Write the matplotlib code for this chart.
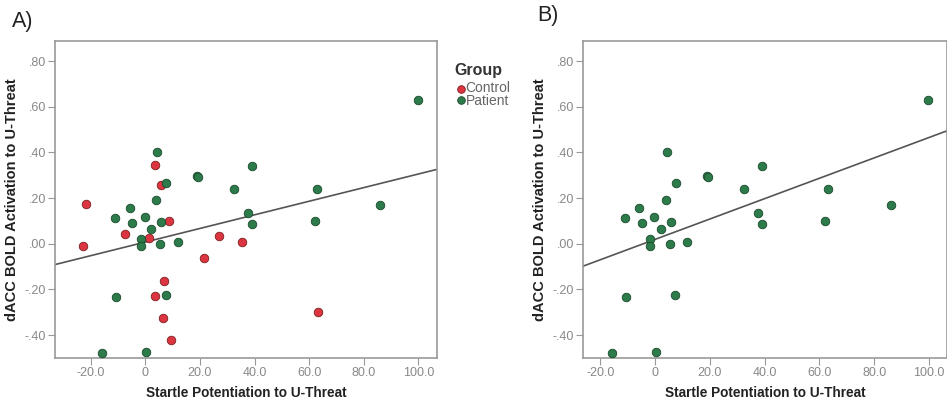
import matplotlib
matplotlib.use("Agg")
import matplotlib.pyplot as plt
import numpy as np

plt.rcParams['font.family'] = ['Liberation Sans', 'DejaVu Sans']

# Patient group (green) - same in both panels
patient_x = [99.8, 4.2, 39.2, 18.8, 19.2, 7.5, 32.5, 63.0, 4.0, -5.7, -11.0, -0.2, 37.6,
             86.1, -4.8, 5.9, 39.2, 62.1, 2.2, -1.7, -1.7, 5.3, 11.8, -10.7, 7.4, -15.8, 0.2]
patient_y = [0.629, 0.403, 0.342, 0.298, 0.293, 0.267, 0.238, 0.238, 0.191, 0.158, 0.115, 0.118, 0.137,
             0.172, 0.089, 0.096, 0.086, 0.101, 0.063, 0.020, -0.009, -0.003, 0.006, -0.235, -0.225, -0.477, -0.473]

# Control group (red) - panel A only
control_x = [-21.7, -23.0, -7.4, 1.2, 3.5, 5.9, 8.8, 27.0, 35.3, 21.4, 6.8, 3.5, 6.5, 9.4, 63.1]
control_y = [0.174, -0.010, 0.045, 0.026, 0.345, 0.257, 0.098, 0.034, 0.006, -0.063, -0.161, -0.228, -0.324, -0.419, -0.298]

# Fit lines (intercept, slope)
fit_A = (0.0077, 0.00298)
fit_B = (0.0193, 0.00446)

x_ticks = [-20, 0, 20, 40, 60, 80, 100]
x_ticklabels = ['-20.0', '0', '20.0', '40.0', '60.0', '80.0', '100.0']
y_ticks = [-0.4, -0.2, 0.0, 0.2, 0.4, 0.6, 0.8]
y_ticklabels = ['-.40', '-.20', '.00', '.20', '.40', '.60', '.80']

group_labels = ['Control', 'Patient']
green = '#2d7b4b'
red = '#dc3440'

W, H = 947, 407
fig = plt.figure(figsize=(W / 100, H / 100), dpi=100)

def px_axes(l, r, t, b):
    return fig.add_axes([l / W, (H - b) / H, (r - l) / W, (b - t) / H])

axA = px_axes(55, 437, 41, 358)
axB = px_axes(583, 947, 41, 358)

def style(ax, xlim):
    ax.set_xlim(*xlim)
    ax.set_ylim(-0.50, 0.888)
    ax.set_xticks(x_ticks)
    ax.set_xticklabels(x_ticklabels)
    ax.set_yticks(y_ticks)
    ax.set_yticklabels(y_ticklabels)
    ax.tick_params(axis='both', colors='#999999', labelcolor='#888888', labelsize=9,
                   length=5, width=0.8, direction='out', pad=1.5)
    for s in ax.spines.values():
        s.set_color('#999999')
        s.set_linewidth(1.2)
    ax.set_xlabel('Startle Potentiation to U-Threat', fontsize=9.8, fontweight='bold',
                  color='#222222', labelpad=5)
    ax.set_ylabel('dACC BOLD Activation to U-Threat', fontsize=10.5, fontweight='bold',
                  color='#222222', labelpad=4)

style(axA, (-33.1, 106.8))
style(axB, (-26.3, 106.6))

ms = 38
axA.scatter(control_x, control_y, s=ms, c=red, edgecolors='#7a2020', linewidths=0.6, zorder=3)
axA.scatter(patient_x, patient_y, s=ms, c=green, edgecolors='#1a4a2a', linewidths=0.6, zorder=3)
axB.scatter(patient_x, patient_y, s=ms, c=green, edgecolors='#1a4a2a', linewidths=0.6, zorder=3)

for ax, fit in ((axA, fit_A), (axB, fit_B)):
    xl = np.array(ax.get_xlim())
    ax.plot(xl, fit[0] + fit[1] * xl, color='#555555', linewidth=1.2, zorder=2)

fig.text(12 / W, 1 - 22 / H, 'A)', fontsize=15.5, va='center', ha='left', color='#222222')
fig.text(537 / W, 1 - 16 / H, 'B)', fontsize=15.5, va='center', ha='left', color='#222222')

# Legend
fig.text(478 / W, 1 - 71 / H, 'Group', fontsize=11.5, fontweight='bold', ha='center',
         va='center', color='#333333')
leg_y = [89, 100]
leg_c = [red, green]
leg_e = ['#7a2020', '#1a4a2a']
for yy, cc, ee in zip(leg_y, leg_c, leg_e):
    fig.add_artist(plt.Line2D([461 / W], [1 - yy / H], marker='o', markersize=5.5,
                              markerfacecolor=cc, markeredgecolor=ee, markeredgewidth=0.6,
                              linestyle='none', transform=fig.transFigure))
fig.text(465.5 / W, 1 - (sum(leg_y) / 2) / H, '\n'.join(group_labels), fontsize=10,
         ha='left', va='center', color='#666666', linespacing=0.92)

fig.savefig('out.png', dpi=100)
